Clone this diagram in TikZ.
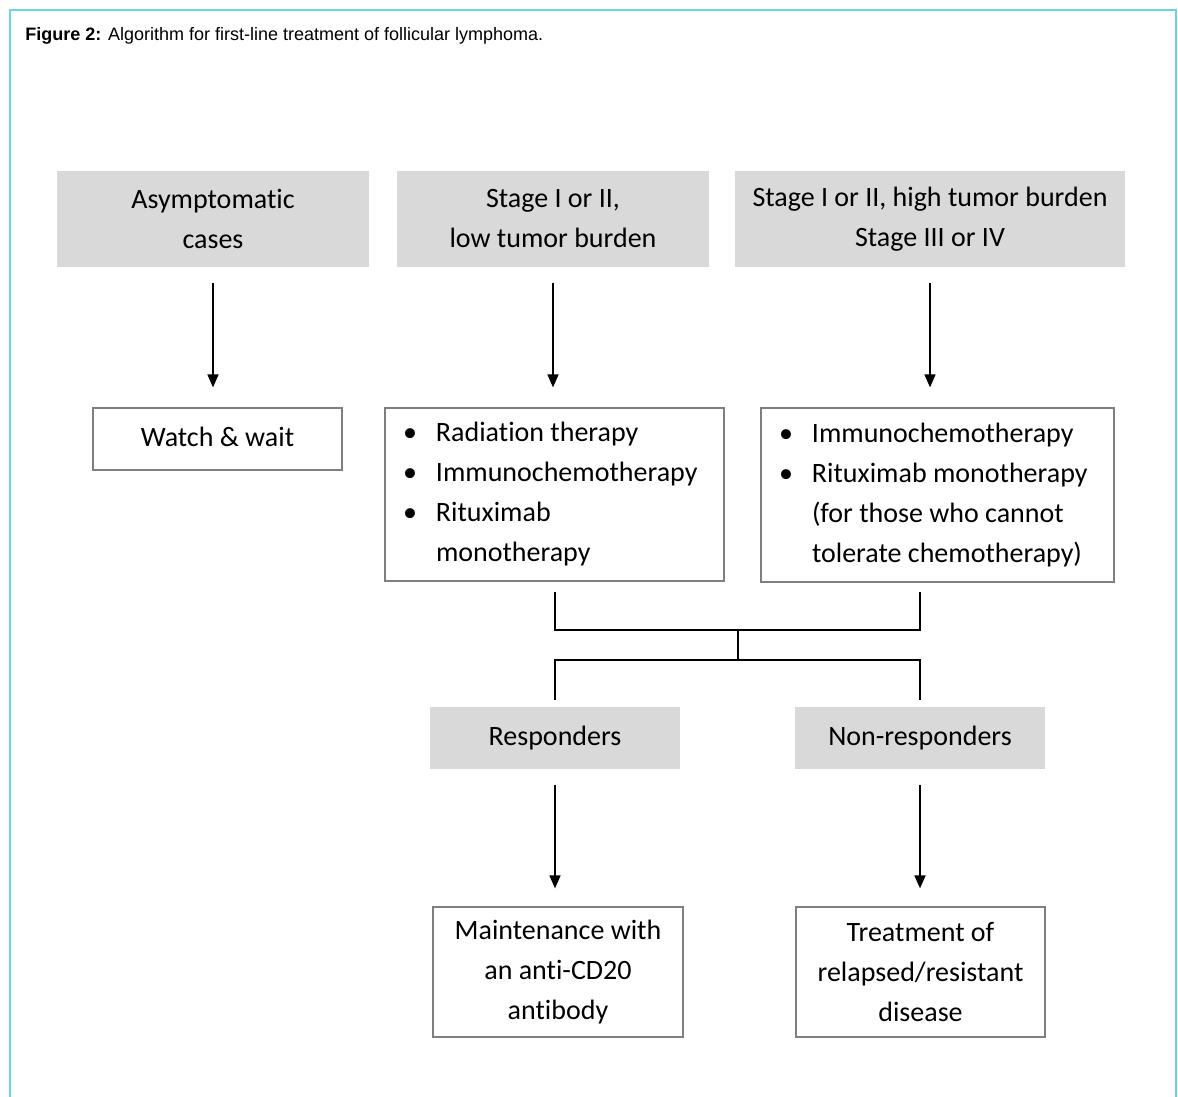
\documentclass[tikz,border=0pt]{standalone}
\usepackage{fontspec}
\setmainfont{Carlito}[Ligatures=NoCommon]
\newfontfamily\captionfont{Liberation Sans}
\usetikzlibrary{arrows.meta}
\definecolor{framecyan}{HTML}{6DD3DE}
\definecolor{boxgrey}{HTML}{D9D9D9}
\definecolor{edgegrey}{HTML}{7F7F7F}
\newcommand\Bul{\makebox[16.5pt][l]{\textbullet}}
\tikzset{
  GreyStyle/.style = { fill = boxgrey, align = center, inner sep = 0pt,
    font = \fontsize{14}{20}\selectfont },
  BoxStyle/.style = { draw = edgegrey, line width = 0.6pt, align = center,
    inner sep = 0pt, font = \fontsize{14}{20}\selectfont },
  ListStyle/.style = { BoxStyle, align = flush left, inner xsep = 9pt },
  ArrowStyle/.style = { line width = 0.8pt, -{Triangle[width=5.5pt,length=6.5pt]},
    shorten < = 8pt, shorten > = 9pt },
  LinkStyle/.style = { line width = 0.9pt } }

\begin{document}
\begin{tikzpicture}[x=0.5pt,y=-0.5pt]
  \useasboundingbox (0,0) rectangle (1178,1097);
  \draw[framecyan, line width=1pt] (10,1097) |- (1176,10) -- (1176,1097);
  \node[anchor=base west, inner sep=0pt, font=\captionfont\fontsize{9}{10}\selectfont] (title) at (25,41)
    {\textbf{Figure 2:} Algorithm for first-line treatment of follicular lymphoma.};

  \node[GreyStyle, minimum width=156pt, minimum height=48pt] (asym) at (213,219) {Asymptomatic\\cases};
  \node[GreyStyle, minimum width=156pt, minimum height=48pt] (low) at (553,219) {Stage I or II,\\low tumor burden};
  \node[GreyStyle, minimum width=195pt, minimum height=48pt] (high) at (930,219) {Stage I or II, high tumor burden\\Stage III or IV};

  \node[BoxStyle, minimum width=124.5pt, minimum height=31pt] (watch) at (217.5,439) {Watch \& wait\vphantom{g}};
  \node[ListStyle, text width=151.5pt, minimum height=86.5pt] (lowtx) at (554.5,494.5)
    {\Bul Radiation therapy\\\Bul Immunochemotherapy\\\Bul Rituximab\\\hspace*{16.5pt}monotherapy};
  \node[ListStyle, text width=158.5pt, minimum height=87pt] (hightx) at (937.5,495)
    {\Bul Immunochemotherapy\\\Bul Rituximab monotherapy\\\hspace*{16.5pt}(for those who cannot\\\hspace*{16.5pt}tolerate chemotherapy)};

  \node[GreyStyle, minimum width=125pt, minimum height=31pt] (resp) at (555,738) {Responders};
  \node[GreyStyle, minimum width=125pt, minimum height=31pt] (nonresp) at (920,738) {Non-responders};

  \node[BoxStyle, minimum width=125pt, minimum height=65pt] (maint) at (558,972) {Maintenance with\\an anti-CD20\\antibody};
  \node[BoxStyle, minimum width=124.5pt, minimum height=65pt] (relapse) at (920.5,972) {Treatment of\\relapsed/resistant\\disease};

  \coordinate (j1) at (738,630);
  \coordinate (j2) at (738,660);

  \draw[ArrowStyle, shorten >=10pt] (asym.south) -- (asym.south |- watch.north);
  \draw[ArrowStyle, shorten >=10pt] (low.south) -- (low.south |- lowtx.north);
  \draw[ArrowStyle, shorten >=10pt] (high.south) -- (high.south |- hightx.north);
  \draw[LinkStyle] ([yshift=-5pt]resp.north |- lowtx.south) |- (j1) -| ([yshift=-5pt]nonresp.north |- lowtx.south);
  \draw[LinkStyle] (j1) -- (j2);
  \draw[LinkStyle] ([yshift=3.5pt]resp.north) |- (j2) -| ([yshift=3.5pt]nonresp.north);
  \draw[ArrowStyle] (resp.south) -- (resp.south |- maint.north);
  \draw[ArrowStyle] (nonresp.south) -- (nonresp.south |- relapse.north);
\end{tikzpicture}
\end{document}
